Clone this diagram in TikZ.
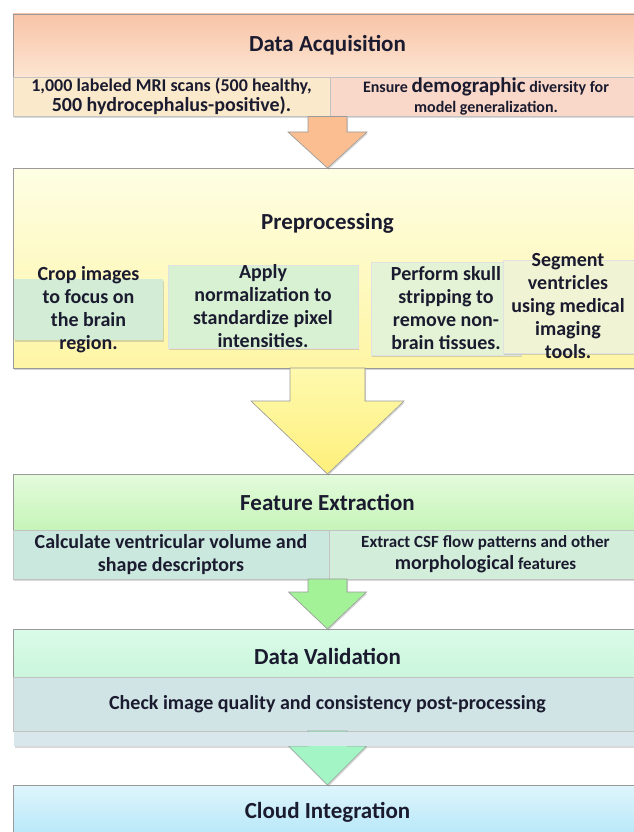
\documentclass[tikz,border=0pt]{standalone}
\usepackage{fontspec}
\setmainfont{Carlito}
\usetikzlibrary{positioning,calc,shadows}

\definecolor{framegray}{HTML}{9A9A9A}
\definecolor{inkdark}{HTML}{1B1B2F}
\definecolor{acqtop}{HTML}{F8C4A7}
\definecolor{acqbot}{HTML}{FCE5D1}
\definecolor{acqleft}{HTML}{FBE9CB}
\definecolor{acqright}{HTML}{F9D8C9}
\definecolor{arrowone}{HTML}{FBBE91}
\definecolor{pretop}{HTML}{FEFEE4}
\definecolor{prebot}{HTML}{FEF5A4}
\definecolor{cropfill}{HTML}{D2ECD6}
\definecolor{applyfill}{HTML}{D9F1D3}
\definecolor{skullfill}{HTML}{E4F3D6}
\definecolor{segfill}{HTML}{F1F4D4}
\definecolor{arrowtwotop}{HTML}{FEF9AE}
\definecolor{arrowtwobot}{HTML}{FEF07C}
\definecolor{fetop}{HTML}{E4FBDC}
\definecolor{febot}{HTML}{C6F4B9}
\definecolor{feleft}{HTML}{CBE8DF}
\definecolor{feright}{HTML}{D2EDD9}
\definecolor{arrowthree}{HTML}{A3F297}
\definecolor{dvtop}{HTML}{D9FBE8}
\definecolor{dvbot}{HTML}{CBF6DC}
\definecolor{dvcell}{HTML}{D0E3E5}
\definecolor{dvband}{HTML}{D8E7EB}
\definecolor{arrowfour}{HTML}{A4F5C6}
\definecolor{citop}{HTML}{DEF5FC}
\definecolor{cibot}{HTML}{B3E6F8}

\tikzset{
  stage/.style={draw=framegray, line width=0.8pt, inner sep=0pt, outer sep=0pt,
    minimum width=629pt,
    drop shadow={shadow xshift=1.2pt, shadow yshift=-1.8pt, opacity=0.35}},
  cell/.style={draw=framegray!60, line width=0.5pt, inner sep=0pt, outer sep=0pt,
    drop shadow={shadow xshift=1.2pt, shadow yshift=-1.8pt, opacity=0.3}},
  title/.style={font=\bfseries\fontsize{23}{27}\selectfont, text=inkdark, inner sep=0pt},
  celltext/.style={font=\bfseries\fontsize{20}{23}\selectfont, text=inkdark, align=center, inner sep=0pt},
  flowarrow/.style={draw=framegray, line width=0.6pt,
    drop shadow={shadow xshift=1pt, shadow yshift=-1.5pt, opacity=0.3}}
}

\begin{document}
\begin{tikzpicture}[x=1pt,y=-1pt]
\useasboundingbox (0,0) rectangle (633,832);

\node[stage, minimum height=63pt, top color=acqtop, bottom color=acqbot] (acq) at (327.5,45.5) {};
\node[title] (acqtitle) at (acq) {Data Acquisition};
\node[cell, fill=acqleft, minimum width=317pt, minimum height=39.5pt, anchor=north west] (acqa) at (acq.south west) {};
\node[cell, fill=acqright, minimum width=312pt, minimum height=39.5pt, anchor=north west] (acqb) at (acqa.north east) {};
\node[celltext, font=\bfseries\fontsize{18}{20}\selectfont] (acqatxt) at (acqa) {1,000 labeled MRI scans (500 healthy,\\{\fontsize{20}{20}\selectfont 500 hydrocephalus-positive).}};
\node[celltext, font=\bfseries\fontsize{16}{20}\selectfont] (acqbtxt) at (acqb) {Ensure {\fontsize{21}{20}\selectfont demographic} diversity for\\model generalization.};

\node[stage, minimum height=200pt, top color=pretop, bottom color=prebot] (pre) at (327.5,268) {};
\node[title] (pretitle) at ($(pre.north)+(0,55)$) {Preprocessing};
\node[cell, draw=none, fill=cropfill, minimum width=149pt, minimum height=61pt] (crop) at (88.5,309.5) {};
\node[celltext] (croptxt) at (crop) {Crop images\\to focus on\\the brain\\region.};
\node[cell, draw=framegray!30, fill=applyfill, minimum width=190pt, minimum height=83pt] (apply) at (263,306.5) {};
\node[celltext] (applytxt) at (apply) {Apply\\normalization to\\standardize pixel\\intensities.};
\node[cell, draw=framegray!30, fill=skullfill, minimum width=150pt, minimum height=93pt] (skull) at (446,308.5) {};
\node[celltext] (skulltxt) at (skull) {Perform skull\\stripping to\\remove non-\\brain tissues.};
\node[cell, draw=framegray!30, fill=segfill, minimum width=137pt, minimum height=93pt] (seg) at (571.5,306.5) {};
\node[celltext] (segtxt) at (568,306) {Segment\\ventricles\\using medical\\imaging\\tools.};

\node[stage, minimum height=56pt, top color=fetop, bottom color=febot] (fe) at (327.5,502) {};
\node[title] (fetitle) at (fe) {Feature Extraction};
\node[cell, fill=feleft, minimum width=316pt, minimum height=49pt, anchor=north west] (fea) at (fe.south west) {};
\node[cell, fill=feright, minimum width=313pt, minimum height=49pt, anchor=north west] (feb) at (fea.north east) {};
\node[celltext] (featxt) at (fea) {Calculate ventricular volume and\\shape descriptors};
\node[celltext, font=\bfseries\fontsize{17}{22}\selectfont] (febtxt) at (feb) {Extract CSF flow patterns and other\\{\fontsize{20}{22}\selectfont morphological} features};

\node[stage, minimum height=48pt, top color=dvtop, bottom color=dvbot] (dv) at (327.5,653) {};
\node[title] (dvtitle) at ($(dv)+(0,3)$) {Data Validation};
\node[cell, draw=none, fill=dvband, minimum width=628pt, minimum height=30pt, anchor=north west] (dvband) at ($(dv.south west)+(1,39)$) {};
\node[cell, fill=dvcell, minimum width=629pt, minimum height=54pt, anchor=north west] (dva) at (dv.south west) {};
\node[celltext] (dvatxt) at (dva) {Check image quality and consistency post-processing};

\node[stage, minimum height=56pt, top color=citop, bottom color=cibot] (ci) at (327.5,813) {};
\node[title] (cititle) at ($(ci)+(0,-1)$) {Cloud Integration};

\draw[flowarrow, fill=arrowone] ($(acq.south |- acqa.south)+(-19.5,0)$) -- ($(acq.south |- acqa.south)+(19.5,0)$)
  -- ($(pre.north)+(19.5,-36)$) -- ($(pre.north)+(39.5,-36)$) -- (pre.north)
  -- ($(pre.north)+(-39.5,-36)$) -- ($(pre.north)+(-19.5,-36)$) -- cycle;
\draw[flowarrow, top color=arrowtwotop, bottom color=arrowtwobot] ($(pre.south)+(-37.5,0)$) -- ($(pre.south)+(37.5,0)$)
  -- ($(fe.north)+(37.5,-73)$) -- ($(fe.north)+(76.5,-73)$) -- (fe.north)
  -- ($(fe.north)+(-76.5,-73)$) -- ($(fe.north)+(-37.5,-73)$) -- cycle;
\draw[flowarrow, fill=arrowthree] ($(fe.south |- fea.south)+(-19.5,0)$) -- ($(fe.south |- fea.south)+(19.5,0)$)
  -- ($(dv.north)+(19.5,-37)$) -- ($(dv.north)+(39,-37)$) -- (dv.north)
  -- ($(dv.north)+(-39,-37)$) -- ($(dv.north)+(-19.5,-37)$) -- cycle;
\draw[flowarrow, fill=arrowfour] ($(dv.south |- dva.south)+(-19.5,0)$) -- ($(dv.south |- dva.south)+(19.5,0)$)
  -- ($(ci.north)+(19.5,-39)$) -- ($(ci.north)+(39,-39)$) -- (ci.north)
  -- ($(ci.north)+(-39,-39)$) -- ($(ci.north)+(-19.5,-39)$) -- cycle;
\fill[dvband] ($(dva.south west)+(1,0.6)$) rectangle ($(dva.south east)+(0,15)$);
\end{tikzpicture}
\end{document}
